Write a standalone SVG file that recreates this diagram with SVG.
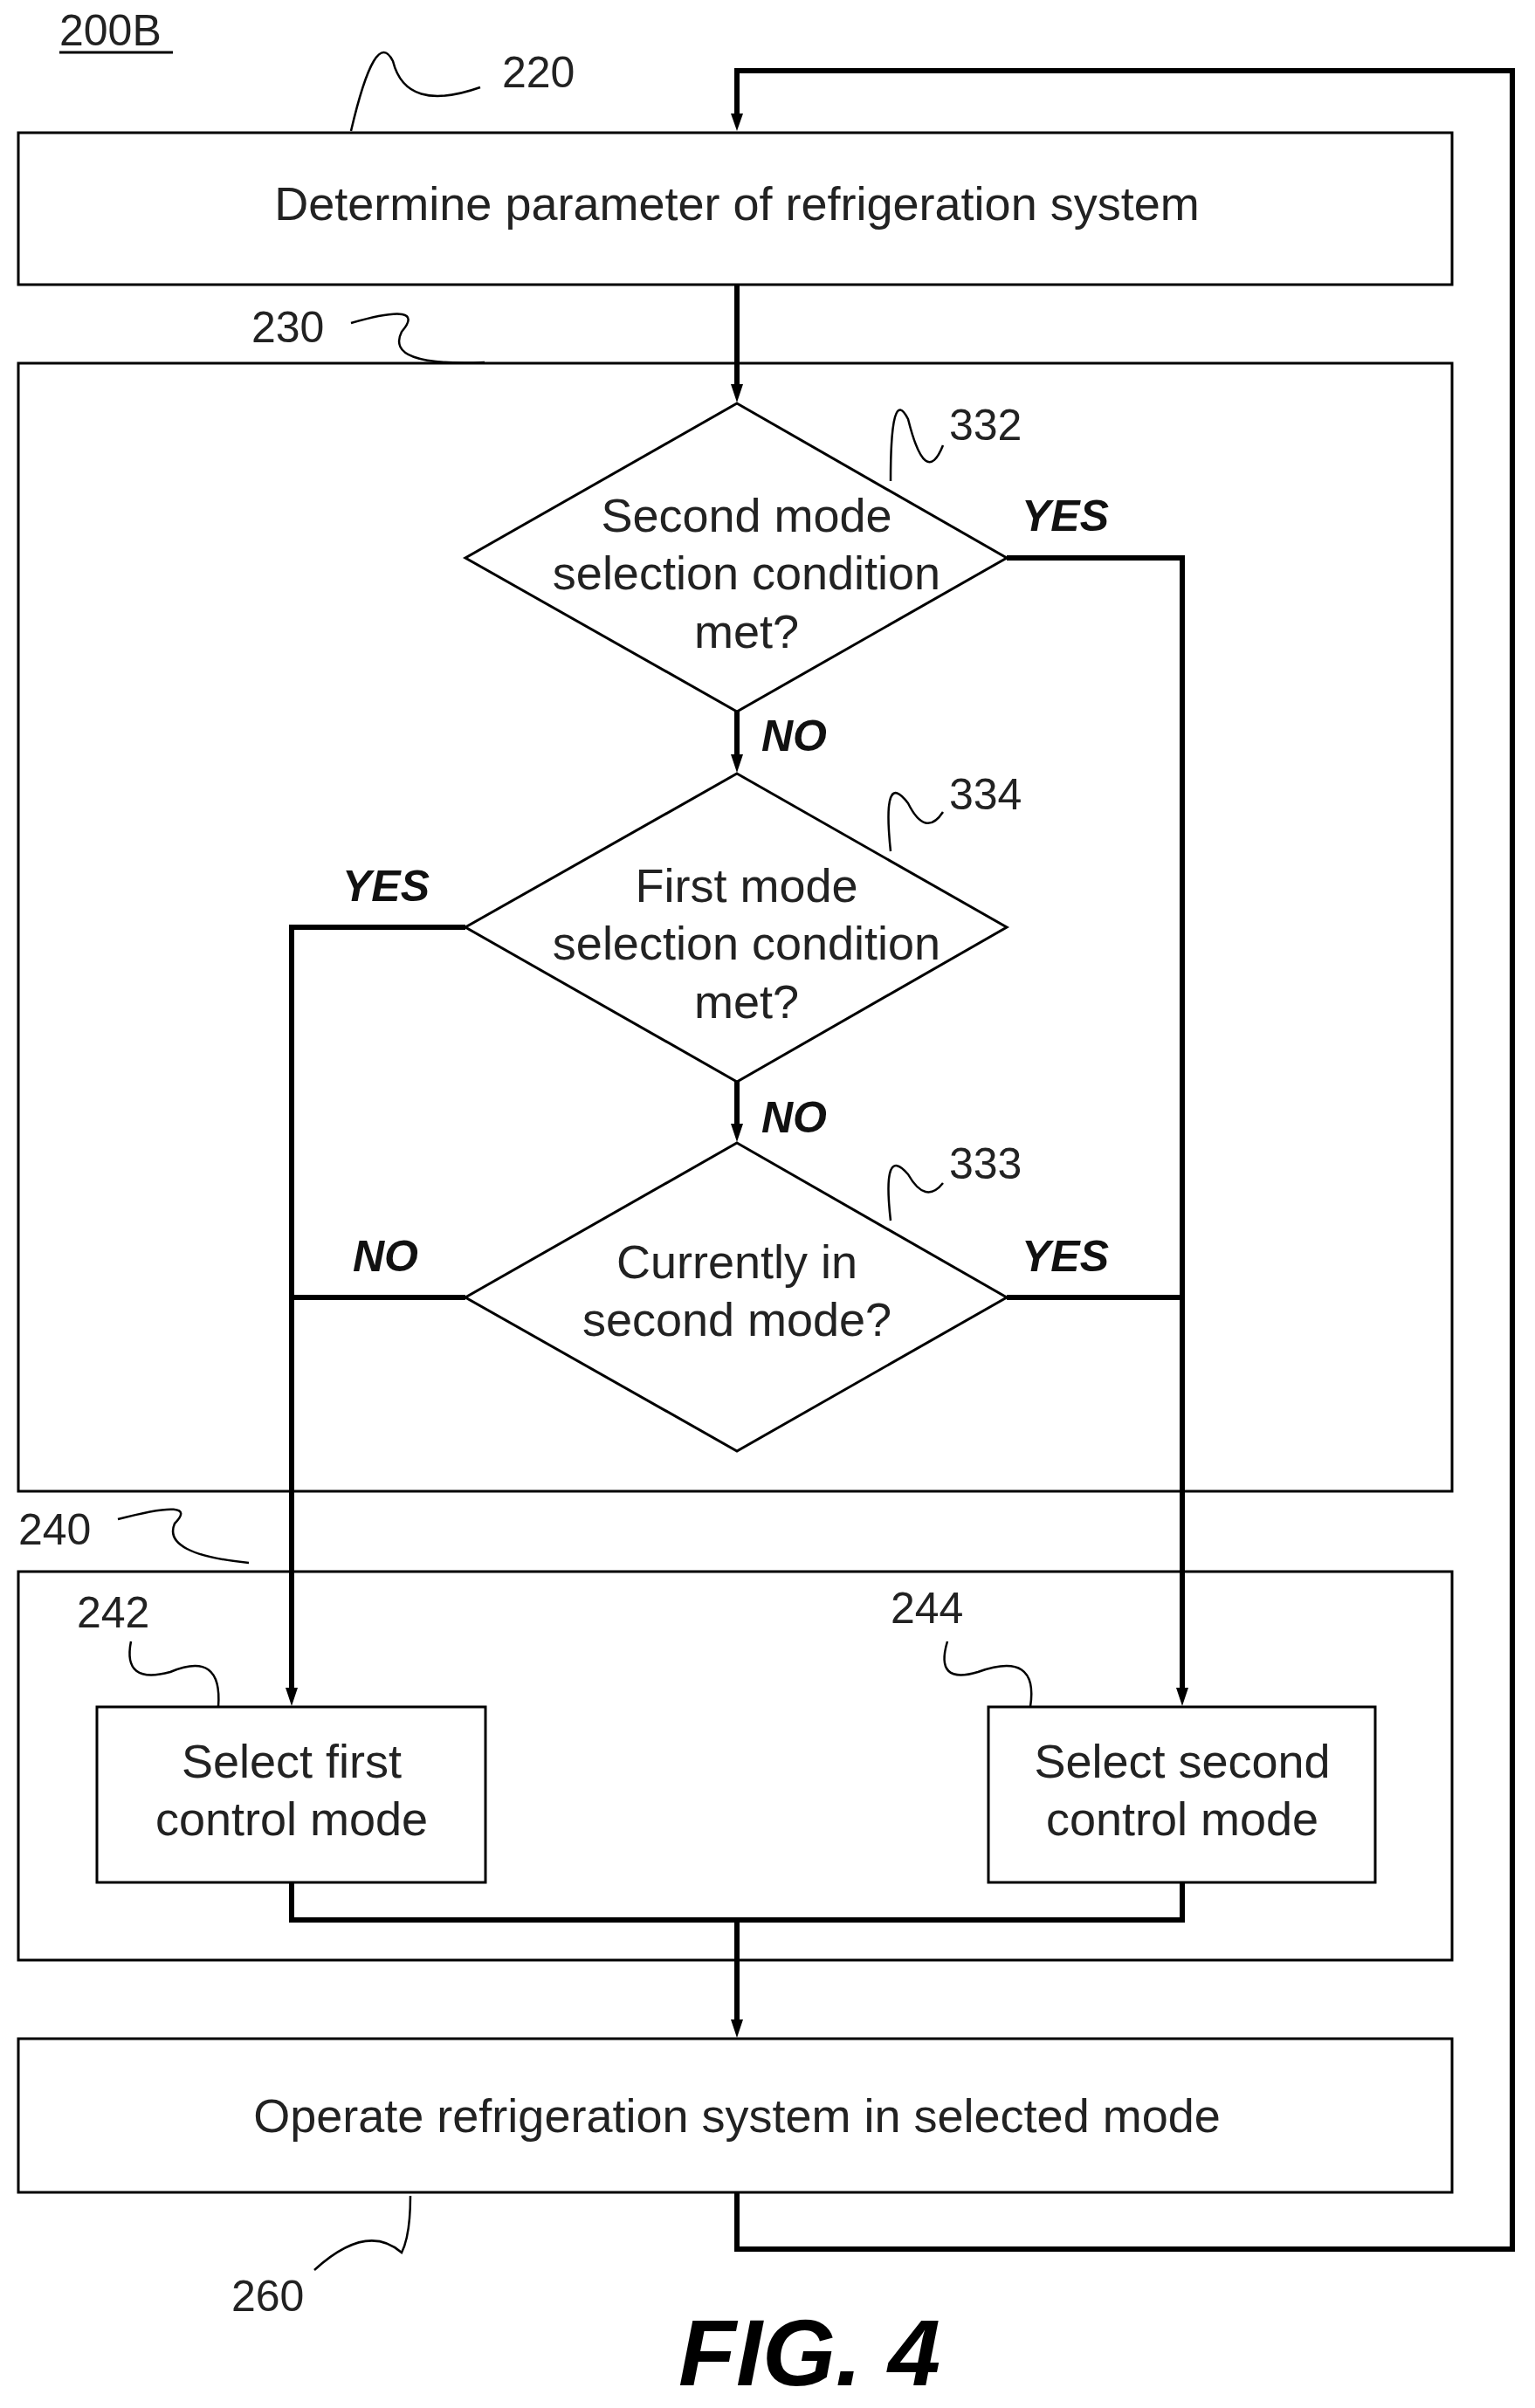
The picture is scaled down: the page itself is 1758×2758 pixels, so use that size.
<svg xmlns="http://www.w3.org/2000/svg" width="1758" height="2758" viewBox="0 0 1758 2758">
<style>
.b{fill:#fff;stroke:#000;stroke-width:3}
.t{font-family:"Liberation Sans",Arial,sans-serif;font-size:54px;fill:#222;text-anchor:middle}
.r{font-family:"Liberation Sans",Arial,sans-serif;font-size:50px;fill:#222}
.l{font-family:"Liberation Sans",Arial,sans-serif;font-size:50px;font-weight:bold;font-style:italic;fill:#111}
.w{fill:none;stroke:#000;stroke-width:6}
.s{fill:none;stroke:#000;stroke-width:2.5}
</style>
<text x="68" y="52" class="r">200B</text><line x1="68" y1="60" x2="198" y2="60" stroke="#000" stroke-width="3"/>
<g id="n220"><rect class="b" x="21" y="152" width="1642" height="174"/><text class="t" x="844" y="252">Determine parameter of refrigeration system</text></g>
<g id="n230"><rect class="b" x="21" y="416" width="1642" height="1292"/></g>
<g id="n240"><rect class="b" x="21" y="1800" width="1642" height="445"/></g>
<g id="n260"><rect class="b" x="21" y="2335" width="1642" height="176"/><text class="t" x="844" y="2442">Operate refrigeration system in selected mode</text></g>
<g id="n332"><path class="b" d="M844,462 L1153,639 L844,815 L533,639Z"/><text class="t" x="855" y="609">Second mode</text><text class="t" x="855" y="675">selection condition</text><text class="t" x="855" y="742">met?</text></g>
<g id="n334"><path class="b" d="M844,886 L1153,1062 L844,1239 L533,1062Z"/><text class="t" x="855" y="1033">First mode</text><text class="t" x="855" y="1099">selection condition</text><text class="t" x="855" y="1166">met?</text></g>
<g id="n333"><path class="b" d="M844,1309 L1153,1486 L844,1662 L533,1486Z"/><text class="t" x="844" y="1464">Currently in</text><text class="t" x="844" y="1530">second mode?</text></g>
<g id="n242"><rect class="b" x="111" y="1955" width="445" height="201"/><text class="t" x="334" y="2036">Select first</text><text class="t" x="334" y="2102">control mode</text></g>
<g id="n244"><rect class="b" x="1132" y="1955" width="443" height="201"/><text class="t" x="1354" y="2036">Select second</text><text class="t" x="1354" y="2102">control mode</text></g>
<g id="connectors">
<path class="w" d="M844,2511 L844,2576 L1732,2576 L1732,81 L844,81 L844,130"/>
<path d="M837,130 L851,130 L844,150z"/>
<line class="w" x1="844" y1="326" x2="844" y2="440"/><path d="M837,440 L851,440 L844,461z"/>
<line class="w" x1="844" y1="815" x2="844" y2="864"/><path d="M837,864 L851,864 L844,885z"/>
<line class="w" x1="844" y1="1239" x2="844" y2="1287"/><path d="M837,1287 L851,1287 L844,1308z"/>
<path class="w" d="M1153,639 L1354,639 L1354,1933"/><line class="w" x1="1153" y1="1486" x2="1354" y2="1486"/>
<path d="M1347,1933 L1361,1933 L1354,1954z"/>
<path class="w" d="M533,1062 L334,1062 L334,1933"/><line class="w" x1="533" y1="1486" x2="334" y2="1486"/>
<path d="M327,1933 L341,1933 L334,1954z"/>
<path class="w" d="M334,2156 L334,2199 L1354,2199 L1354,2156"/>
<line class="w" x1="844" y1="2199" x2="844" y2="2313"/><path d="M837,2313 L851,2313 L844,2334z"/>
</g>
<text class="l" x="1170" y="608">YES</text><text class="l" x="872" y="860">NO</text>
<text class="l" x="392" y="1032">YES</text><text class="l" x="872" y="1297">NO</text>
<text class="l" x="404" y="1456">NO</text><text class="l" x="1170" y="1456">YES</text>
<text class="r" x="575" y="100">220</text><path class="s" d="M402,150 Q430,30 450,70 Q465,130 550,100"/>
<text class="r" x="288" y="392">230</text><path class="s" d="M402,370 Q490,345 460,380 Q440,420 555,415"/>
<text class="r" x="1087" y="504">332</text><path class="s" d="M1020,551 Q1020,440 1040,480 Q1060,560 1080,510"/>
<text class="r" x="1087" y="927">334</text><path class="s" d="M1020,975 Q1010,880 1040,920 Q1060,960 1080,930"/>
<text class="r" x="1087" y="1350">333</text><path class="s" d="M1020,1398 Q1010,1310 1040,1345 Q1060,1380 1080,1355"/>
<text class="r" x="21" y="1769">240</text><path class="s" d="M135,1740 Q230,1715 200,1745 Q185,1780 285,1790"/>
<text class="r" x="88" y="1864">242</text><path class="s" d="M150,1880 Q140,1930 195,1915 Q255,1890 250,1955"/>
<text class="r" x="1020" y="1859">244</text><path class="s" d="M1085,1880 Q1070,1930 1120,1915 Q1190,1890 1180,1955"/>
<text class="r" x="265" y="2647">260</text><path class="s" d="M360,2600 Q420,2545 460,2580 Q470,2560 470,2515"/>
<text x="927" y="2732" style="font-family:'Liberation Sans',Arial,sans-serif;font-size:108px;font-weight:bold;font-style:italic;text-anchor:middle">FIG. 4</text>
</svg>
